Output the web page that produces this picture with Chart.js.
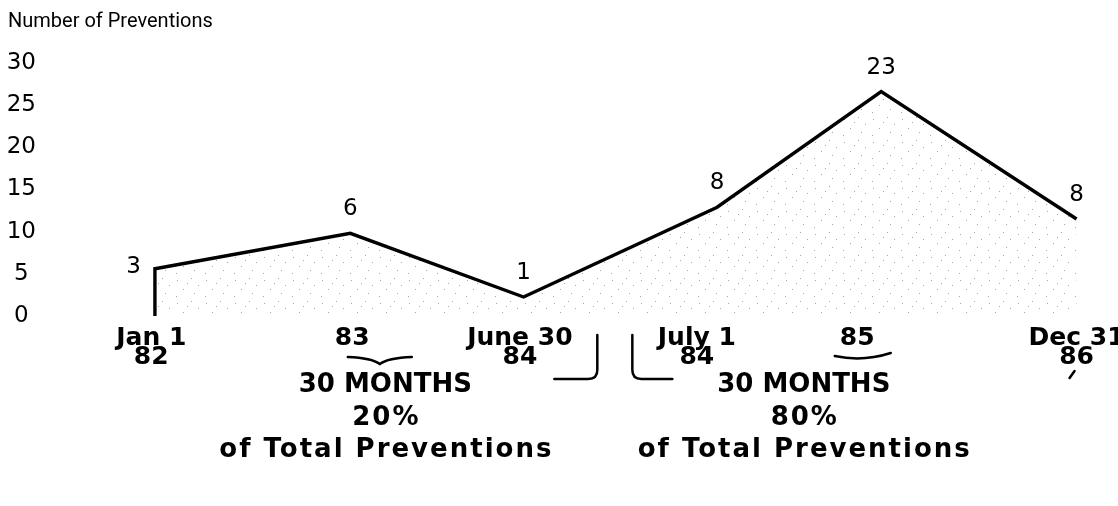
<!DOCTYPE html>
<html>
<head>
<meta charset="utf-8">
<script src="https://cdn.jsdelivr.net/npm/chart.js@4.4.0/dist/chart.umd.min.js"></script>
<style>
html, body { margin: 0; padding: 0; background: #fff; }
#wrap { width: 1118px; height: 506px; }
</style>
</head>
<body>
<div id="wrap"><canvas id="chart"></canvas></div>
<script>
// horizontal slots as drawn (0 = Jan 1 82 ... 5 = Dec 31 86), spacing is not uniform in the original
const pointSlots = [0, 0, 1.06, 2.0, 3.05, 3.94, 5.0];
const plottedValues = [0, 5.6, 9.8, 2.25, 12.9, 26.6, 11.5];
const preventionCounts = [null, 3, 6, 1, 8, 23, 8];

const tickSlots = [-0.02, 1.07, 1.98, 2.94, 3.81, 5.0];
const tickLabels = [["Jan 1", "82"], ["83"], ["June 30", "84"], ["July 1", "84"], ["85"], ["Dec 31", "86"]];
const yTicks = [0, 5, 10, 15, 20, 25, 30];

const noteSlots = [1.25, 3.52];
const noteMonths = ["30 MONTHS", "30 MONTHS"];
const noteShares = ["20%", "80%"];
const noteCaption = "of Total Preventions";

const family = "'DejaVu Sans', Verdana, sans-serif";
const titleFamily = "Roboto, 'Liberation Sans', Arial, sans-serif";

function makeStipple(ctx) {
    let cv = document.createElement('canvas');
    cv.width = 29;
    cv.height = 23;
    let g = cv.getContext('2d');
    g.fillStyle = 'rgba(60,60,60,0.45)';
    let dots = [[3,4],[17,2],[24,9],[9,13],[20,17],[2,20],[13,7]];
    for (let d of dots) g.fillRect(d[0], d[1], 1, 1);
    return ctx.createPattern(cv, 'repeat');
}

const countLabels = {
    id: 'countLabels',
    afterDatasetsDraw(chart) {
        let meta = chart.getDatasetMeta(0);
        let c = chart.ctx;
        c.save();
        c.font = '23px ' + family;
        c.fillStyle = '#000';
        c.textBaseline = 'middle';
        preventionCounts.forEach((n, i) => {
            if (n === null) return;
            let p = meta.data[i];
            if (i === 1) {
                c.textAlign = 'right';
                c.fillText(String(n), p.x - 14, p.y - 2);
            } else {
                c.textAlign = 'center';
                c.fillText(String(n), p.x, p.y - 24);
            }
        });
        c.restore();
    }
};

const periodNotes = {
    id: 'periodNotes',
    afterDraw(chart) {
        let xs = chart.scales.x;
        let c = chart.ctx;
        c.save();
        c.fillStyle = '#000';
        c.strokeStyle = '#000';
        c.textAlign = 'center';
        c.textBaseline = 'middle';
        for (let i = 0; i < noteSlots.length; i++) {
            let x = xs.getPixelForValue(noteSlots[i]);
            c.letterSpacing = '0px';
            c.font = 'bold 26px ' + family;
            c.fillText(noteMonths[i], x, 385);
            c.letterSpacing = '2px';
            c.fillText(noteShares[i], x + 1, 418);
            c.fillText(noteCaption, x + 1, 450);
        }
        c.letterSpacing = '0px';

        // braces under 83 and 85
        c.lineWidth = 2.5;
        c.lineCap = 'round';
        let bx = xs.getPixelForValue(1.22);
        c.beginPath();
        c.moveTo(bx - 32, 357);
        c.quadraticCurveTo(bx - 8, 358, bx, 364);
        c.quadraticCurveTo(bx + 8, 358, bx + 32, 357);
        c.stroke();
        bx = xs.getPixelForValue(3.84);
        c.beginPath();
        c.moveTo(bx - 28, 356);
        c.quadraticCurveTo(bx, 362, bx + 28, 353);
        c.stroke();

        // brackets between June 30 and July 1
        let r = xs.getPixelForValue(2.4);
        c.beginPath();
        c.moveTo(r, 335);
        c.lineTo(r, 370);
        c.quadraticCurveTo(r, 379, r - 9, 379);
        c.lineTo(r - 43, 379);
        c.stroke();
        let l = xs.getPixelForValue(2.59);
        c.beginPath();
        c.moveTo(l, 335);
        c.lineTo(l, 370);
        c.quadraticCurveTo(l, 379, l + 9, 379);
        c.lineTo(l + 40, 379);
        c.stroke();

        // small mark under 86
        let d = xs.getPixelForValue(5.0);
        c.beginPath();
        c.moveTo(d - 7, 378);
        c.lineTo(d - 2, 371);
        c.stroke();
        c.restore();
    }
};

const canvas = document.getElementById('chart');
const ctx = canvas.getContext('2d');

new Chart(canvas, {
    type: 'line',
    data: {
        datasets: [{
            data: pointSlots.map((x, i) => ({x: x, y: plottedValues[i]})),
            borderColor: '#000',
            borderWidth: 3.4,
            borderJoinStyle: 'miter',
            pointRadius: 0,
            tension: 0,
            fill: 'origin',
            backgroundColor: makeStipple(ctx)
        }]
    },
    options: {
        responsive: true,
        maintainAspectRatio: false,
        animation: false,
        layout: {padding: {left: 8, right: 23, top: 0, bottom: 0}},
        plugins: {
            legend: {display: false},
            tooltip: {enabled: false},
            title: {
                display: true,
                text: 'Number of Preventions',
                align: 'start',
                color: '#000',
                font: {family: titleFamily, size: 20, weight: 'normal'},
                padding: {top: 10, bottom: 29}
            }
        },
        scales: {
            x: {
                type: 'linear',
                min: -0.515,
                max: 5.1,
                grid: {display: false, drawTicks: false},
                border: {display: false},
                afterBuildTicks: s => { s.ticks = tickSlots.map(v => ({value: v})); },
                afterFit: s => { s.height = 190; s.paddingLeft = 0; s.paddingRight = 0; },
                ticks: {
                    autoSkip: false,
                    maxRotation: 0,
                    minRotation: 0,
                    padding: 13,
                    color: '#000',
                    font: {family: family, size: 25, weight: 'bold', lineHeight: 0.76},
                    callback: (v, i) => tickLabels[i]
                }
            },
            y: {
                min: 0,
                max: 30,
                grid: {display: false, drawTicks: false},
                border: {display: false},
                afterBuildTicks: s => { s.ticks = yTicks.map(v => ({value: v})); },
                afterFit: s => { s.width = 52; },
                ticks: {
                    crossAlign: 'center',
                    padding: 24,
                    color: '#000',
                    font: {family: family, size: 23}
                }
            }
        }
    },
    plugins: [countLabels, periodNotes]
});
</script>
</body>
</html>
